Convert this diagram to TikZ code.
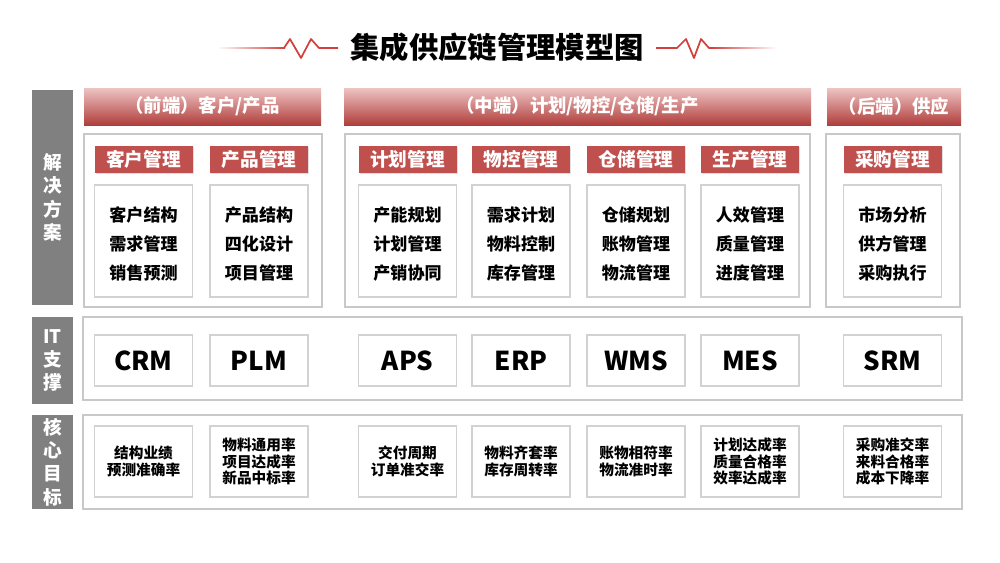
\documentclass[tikz,border=0pt]{standalone}
\usepackage{fontspec}
\setmainfont{Noto Sans CJK SC}
\usetikzlibrary{shadows}

\definecolor{sidegray}{HTML}{808080}
\definecolor{panelgray}{HTML}{C8C8C8}
\definecolor{boxgray}{HTML}{D2D2D2}
\definecolor{subred}{HTML}{C0504D}
\definecolor{bartop}{HTML}{EEC4C3}
\definecolor{barbot}{HTML}{B03E3C}
\definecolor{titlered}{HTML}{D2403C}

\newcommand{\fsz}[2]{\fontsize{#1}{#2}\selectfont}

\begin{document}
\begin{tikzpicture}[x=0.75pt, y=-0.75pt,
	side/.style={fill=sidegray, text=white, inner sep=0pt, align=center,
		minimum width=41*0.75pt, font=\bfseries\fsz{14}{17.5}},
	bar/.style={top color=bartop, middle color=subred, bottom color=barbot,
		text=white, inner sep=0pt, minimum height=37*0.75pt, font=\bfseries\fsz{13.8}{15}},
	panel/.style={draw=panelgray, line width=1.4pt, fill=white, inner sep=0pt},
	subhead/.style={fill=subred, text=white, inner sep=0pt,
		minimum width=98*0.75pt, minimum height=27*0.75pt, font=\bfseries\fsz{14}{15},
		drop shadow={opacity=0.25, shadow xshift=1pt, shadow yshift=-1pt}},
	itembox/.style={draw=boxgray, line width=0.8pt, fill=white, inner sep=0pt,
		align=center, minimum width=98*0.75pt},
	topic/.style={itembox, minimum height=112*0.75pt},
	topictext/.style={align=center, inner sep=0pt, font=\bfseries\fsz{12.8}{21.75}},
	sysbox/.style={itembox, minimum height=51*0.75pt, font=\bfseries\fsz{19.5}{20}},
	kpibox/.style={itembox, minimum height=71*0.75pt, font=\bfseries\fsz{11}{12.4}}]

	\useasboundingbox (0,0) rectangle (1000,562);

	% title with heartbeat lines
	\node[font=\bfseries\fsz{22}{24}] (title) at (497,47) {集成供应链管理模型图};
	\shade[left color=white, right color=titlered] (217,47.3) rectangle (285,48.7);
	\draw[titlered, line width=1.3pt, line join=round]
		(284,48) -- (290,39) -- (301,58) -- (311,39) -- (319,48) -- (338,48);
	\draw[titlered, line width=1.3pt, line join=round]
		(656,48) -- (677,48) -- (686,39) -- (694,58) -- (701,39) -- (709,48) -- (712,48);
	\shade[left color=titlered, right color=white] (711,47.3) rectangle (777,48.7);

	% row labels
	\node[side, minimum height=215*0.75pt] (sol) at (52.5,197.5) {解\\决\\方\\案};
	\node[side, minimum height=87*0.75pt] (its) at (52.5,360.5) {IT\\支\\撑};
	\node[side, minimum height=94*0.75pt] (kpi) at (52.5,462) {核\\心\\目\\标};

	% stage bars
	\node[bar, minimum width=237*0.75pt] (front) at (202.5,106.5) {（前端）客户/产品};
	\node[bar, minimum width=467*0.75pt] (middle) at (577.5,106.5) {（中端）计划/物控/仓储/生产};
	\node[bar, minimum width=134*0.75pt] (back) at (894,106.5) {（后端）供应};

	% panels
	\node[panel, minimum width=238*0.75pt, minimum height=173*0.75pt] (pfront) at (203,220.5) {};
	\node[panel, minimum width=465*0.75pt, minimum height=173*0.75pt] (pmiddle) at (577.5,220.5) {};
	\node[panel, minimum width=134*0.75pt, minimum height=173*0.75pt] (pback) at (893,220.5) {};
	\node[panel, minimum width=879*0.75pt, minimum height=83*0.75pt] (pits) at (522.5,358.5) {};
	\node[panel, minimum width=879*0.75pt, minimum height=94*0.75pt] (pkpi) at (522.5,462) {};

	% modules
	\foreach \n/\cx/\hd/\tp/\sys/\kp in {
		cus/143.5/客户管理/{客户结构\\需求管理\\销售预测}/CRM/{结构业绩\\预测准确率},
		prd/259/产品管理/{产品结构\\四化设计\\项目管理}/PLM/{物料通用率\\项目达成率\\新品中标率},
		pln/407.5/计划管理/{产能规划\\计划管理\\产销协同}/APS/{交付周期\\订单准交率},
		mat/521/物控管理/{需求计划\\物料控制\\库存管理}/ERP/{物料齐套率\\库存周转率},
		wh/636/仓储管理/{仓储规划\\账物管理\\物流管理}/WMS/{账物相符率\\物流准时率},
		mfg/750/生产管理/{人效管理\\质量管理\\进度管理}/MES/{计划达成率\\质量合格率\\效率达成率},
		pur/892.5/采购管理/{市场分析\\供方管理\\采购执行}/SRM/{采购准交率\\来料合格率\\成本下降率}}{
		\node[subhead] (\n-hd) at (\cx,159.5) {\hd};
		\node[topic] (\n-tp) at (\cx,241) {};
		\node[topictext] (\n-tx) at (\cx,244) {\tp};
		\node[sysbox] (\n-sys) at (\cx,360.5) {\sys};
		\node[kpibox] (\n-kpi) at (\cx,461.5) {\kp};
	}
\end{tikzpicture}
\end{document}
